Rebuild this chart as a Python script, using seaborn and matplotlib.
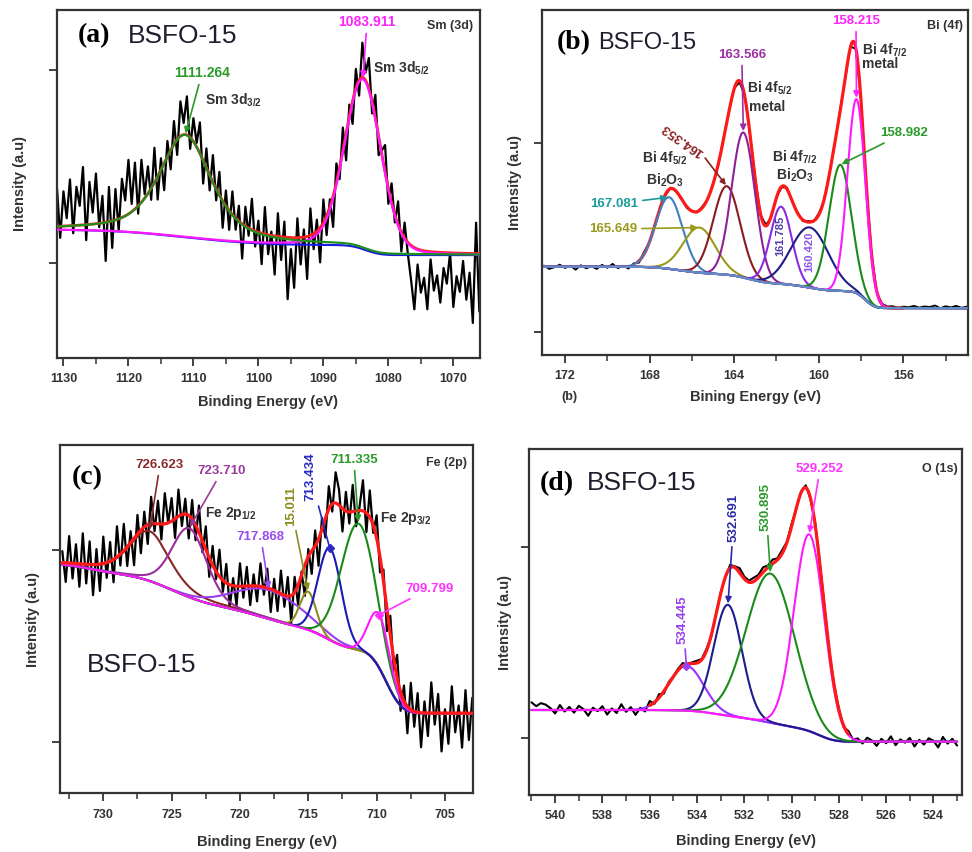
import math
import numpy as np
import matplotlib
matplotlib.use("Agg")
import matplotlib.pyplot as plt
from matplotlib.ticker import MultipleLocator
import seaborn as sns

sns.set_theme(style="white")
plt.rcParams["font.family"] = ["Liberation Sans", "DejaVu Sans"]
plt.rcParams["mathtext.fontset"] = "custom"
plt.rcParams["mathtext.rm"] = "Liberation Sans"
plt.rcParams["mathtext.bf"] = "Liberation Sans:bold"
plt.rcParams["mathtext.it"] = "Liberation Sans:italic"

INK = "#333333"
SAMPLE = "BSFO-15"

# ---------------- (a) Sm 3d ----------------
sm_ticks = [1130, 1120, 1110, 1100, 1090, 1080, 1070]
sm_centers = [1111.264, 1083.911]
sm_heights = [0.53, 0.88]
sm_fwhm = [9.5, 6.6]
sm_lorentz = [0.6, 0.15]
sm_bg_base = 1.041
sm_bg_steps = [0.052, 0.080]
sm_bg_at = [1083.5, 1111.0]
sm_bg_width = [1.8, 9.0]
# deviation of the measured counts from the fit envelope (x0.01), 1066 -> 1131 eV
sm_resid = [-30, 16, -36, -10, -24, -4, -20, -12, -28, 0,
            -16, -8, -26, -12, -20, -4, -30, -14, -22, -8,
            -32, -18, -6, 8, -10, 12, -4, 10, -8, 14,
            2, -10, 12, -6, 16, 4, 18, -8, 10, -12,
            6, -14, 12, -6, 10, -16, 4, -10, 12, -18,
            6, -8, 14, -22, 4, -14, 10, -26, -6, -32,
            8, -12, 12, -20, 2, -10, 14, -16, 6, -8,
            16, -4, 10, -18, 8, -6, 12, -10, 8, -14,
            12, -6, 14, -8, 10, -12, 16, 2, 12, -6,
            20, 6, 18, -8, 12, -10, 8, -14, 6, -12,
            18, -6, 14, 2, 22, -4, 24, 4, 28, 8,
            20, -6, 16, -14, 18, -20, 14, -2, 26, 6,
            22, -8, 30, 10, 20, -4, 24, 4, 18, -6,
            20]

# ---------------- (b) Bi 4f ----------------
bi_ticks = [172, 168, 164, 160, 156]
bi_centers = [167.081, 165.649, 164.353, 163.566, 161.785, 160.420, 158.982, 158.215]
bi_heights = [0.38, 0.24, 0.47, 0.77, 0.41, 0.32, 0.67, 1.03]
bi_fwhm = [1.5, 1.8, 1.5, 1.3, 1.2, 2.1, 1.25, 1.0]
bi_bg_base = 1.125
bi_bg_steps = [0.09, 0.04, 0.05, 0.04]
bi_bg_at = [157.8, 160.5, 163.3, 166.5]
bi_bg_width = [0.35, 0.8, 0.7, 1.0]
bi_resid = [8, 2, 12, 4, 10, 0, 14, 6, 9, 3,
            12, 5, 8, 2, 10, 6, 4, -6, 8, -4,
            6, -8, 4, -2, 10, -6, 3, -5, 8, -3,
            6, -7, 4, -2, 9, -5, 2, -8, 6, -3,
            7, -4, 5, -9, 3, -2, 8, -6, 4, -3,
            7, -5, 2, -8, 6, -2, 5, -6, 3, 1,
            -4, 12, -10, 6, -14, 4, -8, 15, -6, 10,
            -12, 2, -9, 8, -16, 5, -7, 11, -3, -12,
            6]

# ---------------- (c) Fe 2p ----------------
fe_ticks = [730, 725, 720, 715, 710, 705]
fe_centers = [726.623, 723.710, 717.868, 715.011, 713.434, 711.335, 709.799]
fe_labels = ["726.623", "723.710", "717.868", "15.011", "713.434", "711.335", "709.799"]
fe_heights = [0.26, 0.36, 0.15, 0.20, 0.48, 0.66, 0.28]
fe_fwhm = [3.5, 3.0, 6.0, 1.4, 2.0, 3.0, 1.8]
fe_lorentz = [0.5, 0.2, 0.0, 0.0, 0.0, 0.0, 0.0]
fe_bg_base = 1.148
fe_bg_steps = [0.33, 0.10, 0.13, 0.17, 0.05]
fe_bg_at = [709.3, 713.5, 718.0, 725.0, 731.0]
fe_bg_width = [0.9, 1.2, 2.5, 2.2, 1.5]
fe_resid = [8, -14, 12, -18, 4, -10, 14, -16, 2, -20,
            10, -6, 16, -12, 6, -18, 10, -8, 14, -14,
            8, -10, 12, -6, 10, -12, 6, -8, 12, -4,
            14, -10, 16, 2, -8, 14, -6, 10, -12, 8,
            16, -4, 12, -10, 6, -14, 8, -12, 4, -16,
            2, -10, 8, -14, 10, -6, 12, -10, 6, -12,
            10, -4, 12, -8, 6, -10, 10, -6, 12, -10,
            4, -12, 10, -6, 14, -4, 10, -10, 12, -6,
            14, -8, 10, -12, 8, -6, 14, -10, 12, 0,
            16, -8, 12, -4, 14, -10, 8, -12, 10, -14,
            6, -10, 14, -6, 16, -12, 10, -8, 14, -14,
            8, -16, 12, -10, 16, -12, 10, -8, 14, -10,
            6]

# ---------------- (d) O 1s ----------------
o_ticks = [540, 538, 536, 534, 532, 530, 528, 526, 524]
o_centers = [534.445, 532.691, 530.895, 529.252]
o_heights = [0.235, 0.58, 0.78, 1.03]
o_fwhm = [1.7, 1.4, 2.4, 1.5]
o_bg_base = 0.982
o_bg_steps = [0.06, 0.06, 0.046]
o_bg_at = [528.8, 530.5, 533.0]
o_bg_width = [0.5, 1.0, 1.0]
o_resid = [-20, 15, -10, 25, -30, 5, 18, -15, 10, -25,
           20, -5, 12, -18, 28, -8, 15, -22, 6, 20,
           -12, 10, -6, 16, -10, 8, 4, -6, 8, 2,
           10, -4, 12, 6, -2, 14, 4, 18, 8, 22,
           10, 26, 14, 20, 8, 12, 24, 6, 16, -4,
           8, 2, -6, 10, 4, 12, 6, -4, 14, 8,
           2, 10, -12, 18, -8, 24, -20, 6, -28, 14,
           -10, 30, -16, 8, -24, 20, -6, 12, -30, 4,
           22, -14, 16, -8, 26, -18, 10, 28, 36, 20,
           40]

_erf = np.vectorize(math.erf)


def peak(E, c, h, w, m=0.0):
    s = w / 2.3548
    g = np.exp(-0.5 * ((E - c) / s) ** 2)
    l = 1.0 / (1.0 + ((E - c) / (w / 2.0)) ** 2)
    return h * (m * l + (1.0 - m) * g)


def background(E, base, steps, at, width):
    out = np.full(E.shape, base, dtype=float)
    for h, c, w in zip(steps, at, width):
        out += h * 0.5 * (1.0 + _erf((E - c) / (w * np.sqrt(2.0))))
    return out


def curve(ax, x, y, color, lw, z):
    sns.lineplot(x=x, y=y, ax=ax, color=color, linewidth=lw, zorder=z,
                 estimator=None, sort=False, legend=False)


def frame(ax, xlim, ylim, ticks, minor, xlabel, xlab_y, ylab_x):
    ax.set_xlim(*xlim)
    ax.set_ylim(*ylim)
    ax.set_xticks(ticks)
    ax.set_xticklabels([str(t) for t in ticks], fontweight="bold", fontsize=9, color=INK)
    ax.xaxis.set_minor_locator(MultipleLocator(minor))
    ax.set_yticks([1, 2])
    ax.set_yticklabels([])
    ax.tick_params(axis="x", which="major", bottom=True, direction="out", length=6,
                   width=1.3, pad=5, color=INK)
    ax.tick_params(axis="x", which="minor", bottom=True, direction="out", length=4,
                   width=1.1, color=INK)
    ax.tick_params(axis="y", which="major", left=True, direction="out", length=6,
                   width=1.3, color=INK)
    for s in ax.spines.values():
        s.set_color(INK)
        s.set_linewidth(1.6)
    ax.set_xlabel(xlabel, fontsize=10.5, fontweight="bold", color=INK)
    ax.xaxis.set_label_coords(0.5, xlab_y)
    ax.set_ylabel("Intensity (a.u)", fontsize=10.5, fontweight="bold", color=INK)
    ax.yaxis.set_label_coords(ylab_x, 0.5)
    ax.grid(False)
    ax.set_facecolor("white")


def header(ax, letter, x_letter, x_name, y, name_size=19):
    ax.text(x_letter, y, letter, transform=ax.transAxes, ha="left", va="center",
            fontsize=20, fontweight="bold", family="Liberation Serif", color="black")
    ax.text(x_name, y, SAMPLE, transform=ax.transAxes, ha="left", va="center",
            fontsize=name_size, color="#1e1e2e")


def tag(ax, text, xy, xytext, color, size=9.5, rot=0, style="-|>", dot=False):
    ax.annotate(text, xy=xy, xycoords="data", xytext=xytext, textcoords="axes fraction",
                ha="center", va="center", fontsize=size, fontweight="bold", color=color,
                rotation=rot, zorder=10,
                arrowprops=dict(arrowstyle=style, color=color, lw=1.2, mutation_scale=9,
                                shrinkA=1, shrinkB=1))
    if dot:
        ax.plot([xy[0]], [xy[1]], marker="D", ms=4.5, color=color, zorder=11)


def note(ax, text, x, y, ha="left", size=10, color=INK):
    ax.text(x, y, text, transform=ax.transAxes, ha=ha, va="center", fontsize=size,
            fontweight="bold", color=color, zorder=10)


fig = plt.figure(figsize=(9.72, 8.52), dpi=100)
fig.patch.set_facecolor("white")

# ======================= (a) =======================
ax = fig.add_axes([0.0586, 0.5798, 0.4352, 0.4085])
E = np.linspace(1066.0, 1131.0, 1400)
Ed = np.linspace(1066.0, 1131.0, len(sm_resid))
bg = background(E, sm_bg_base, sm_bg_steps, sm_bg_at, sm_bg_width)
comps = [peak(E, c, h, w, m) for c, h, w, m in zip(sm_centers, sm_heights, sm_fwhm, sm_lorentz)]
env = bg + sum(comps)
envd = background(Ed, sm_bg_base, sm_bg_steps, sm_bg_at, sm_bg_width) + sum(
    peak(Ed, c, h, w, m) for c, h, w, m in zip(sm_centers, sm_heights, sm_fwhm, sm_lorentz))
curve(ax, Ed, envd + 0.01 * np.array(sm_resid), "black", 1.6, 2)
curve(ax, E, bg, "#1a1ae6", 1.5, 3)
curve(ax, E, env, "#ff2020", 2.0, 4)
curve(ax, E, bg + comps[1], "#ff19ff", 1.6, 5)
curve(ax, E, bg + comps[0], "#1f8f1f", 1.6, 6)
frame(ax, (1131.0, 1065.9), (0.508, 2.311), sm_ticks, 5, "Binding Energy (eV)", -0.105, -0.071)
header(ax, "(a)", 0.05, 0.168, 0.925)
note(ax, "Sm (3d)", 0.983, 0.954, ha="right", size=9)
sm_top = [background(np.array([c]), sm_bg_base, sm_bg_steps, sm_bg_at, sm_bg_width)[0] + h
          for c, h in zip(sm_centers, sm_heights)]
tag(ax, f"{sm_centers[0]:.3f}", (sm_centers[0], sm_top[0]), (0.343, 0.819), "#2a9a2a", size=10)
tag(ax, f"{sm_centers[1]:.3f}", (sm_centers[1], sm_top[1]), (0.733, 0.966), "#ff22ff", size=10)
note(ax, r"$\mathbf{Sm\ 3d_{3/2}}$", 0.35, 0.741)
note(ax, r"$\mathbf{Sm\ 3d_{5/2}}$", 0.747, 0.833)

# ======================= (b) =======================
ax = fig.add_axes([0.5576, 0.5833, 0.4383, 0.4050])
E = np.linspace(153.0, 173.0, 1400)
Ed = np.linspace(153.0, 173.0, len(bi_resid))
bi_bg = lambda x: background(x, bi_bg_base, bi_bg_steps, bi_bg_at, bi_bg_width)
bg = bi_bg(E)
comps = [peak(E, c, h, w) for c, h, w in zip(bi_centers, bi_heights, bi_fwhm)]
env = bg + sum(comps)
envd = bi_bg(Ed) + sum(peak(Ed, c, h, w) for c, h, w in zip(bi_centers, bi_heights, bi_fwhm))
bi_colors = ["#3f7fc2", "#9a9a1c", "#8b1c1c", "#8e2196", "#8a2be2", "#1c1c84", "#1a8a1a", "#ff19ff"]
curve(ax, Ed, envd + 0.001 * np.array(bi_resid), "black", 1.3, 2)
fit = (E > 156.0) & (E < 168.6)
curve(ax, E[fit], env[fit], "#ff1a1a", 2.3, 3)
for k, comp in enumerate(comps):
    curve(ax, E, bg + comp, bi_colors[k], 1.5, 4)
curve(ax, E, bg, "#5b8fc6", 1.6, 5)
frame(ax, (173.09, 152.94), (0.876, 2.708), bi_ticks, 2, "Bining Energy (eV)", -0.10, -0.047)
header(ax, "(b)", 0.035, 0.131, 0.905, name_size=17)
note(ax, "Bi (4f)", 0.988, 0.954, ha="right", size=9)
note(ax, "(b)", 0.045, -0.122, size=9)
bi_top = [bi_bg(np.array([c]))[0] + h for c, h in zip(bi_centers, bi_heights)]
bl = [f"{c:.3f}" for c in bi_centers]
tag(ax, bl[0], (bi_centers[0], bi_top[0]), (0.169, 0.438), "#1f9a9a")
tag(ax, bl[1], (bi_centers[1], bi_top[1]), (0.167, 0.365), "#9a9a1c")
ax.text(0.331, 0.623, bl[2], transform=ax.transAxes, rotation=145, ha="center", va="center",
        fontsize=9.5, fontweight="bold", color="#8b2222", zorder=10)
ax.annotate("", xy=(bi_centers[2], bi_top[2]), xytext=(0.383, 0.571), textcoords="axes fraction",
            arrowprops=dict(arrowstyle="-|>", color="#8b2222", lw=1.2, mutation_scale=8,
                            shrinkA=0, shrinkB=1), zorder=10)
tag(ax, bl[3], (bi_centers[3], bi_top[3]), (0.469, 0.870), "#9b2fa3")
ax.text(0.559, 0.345, bl[4], transform=ax.transAxes, rotation=90, ha="center", va="center",
        fontsize=8, fontweight="bold", color="#4b3ca8", zorder=10)
ax.text(0.627, 0.299, bl[5], transform=ax.transAxes, rotation=90, ha="center", va="center",
        fontsize=8, fontweight="bold", color="#8a52e6", zorder=10)
tag(ax, bl[6], (bi_centers[6], bi_top[6]), (0.850, 0.643), "#2a9a2a")
tag(ax, bl[7], (bi_centers[7], bi_top[7]), (0.737, 0.968), "#ff22ff")
note(ax, r"$\mathbf{Bi\ 4f_{5/2}}$", 0.289, 0.571, ha="center")
note(ax, r"$\mathbf{Bi_2O_3}$", 0.289, 0.507, ha="center")
note(ax, r"$\mathbf{Bi\ 4f_{7/2}}$", 0.594, 0.574, ha="center")
note(ax, r"$\mathbf{Bi_2O_3}$", 0.594, 0.520, ha="center")
note(ax, r"$\mathbf{Bi\ 4f_{5/2}}$", 0.481, 0.774)
note(ax, "metal", 0.485, 0.719)
note(ax, r"$\mathbf{Bi\ 4f_{7/2}}$", 0.751, 0.884)
note(ax, "metal", 0.751, 0.843)

# ======================= (c) =======================
ax = fig.add_axes([0.0617, 0.0689, 0.4252, 0.4088])
E = np.linspace(703.0, 733.0, 1400)
Ed = np.linspace(703.0, 733.0, len(fe_resid))
fe_bg = lambda x: background(x, fe_bg_base, fe_bg_steps, fe_bg_at, fe_bg_width)
bg = fe_bg(E)
comps = [peak(E, c, h, w, m) for c, h, w, m in zip(fe_centers, fe_heights, fe_fwhm, fe_lorentz)]
env = bg + sum(comps)
envd = fe_bg(Ed) + sum(peak(Ed, c, h, w, m)
                        for c, h, w, m in zip(fe_centers, fe_heights, fe_fwhm, fe_lorentz))
fe_colors = ["#8b2525", "#9b2c9b", "#9a3cf0", "#8c8c1e", "#1a1ab4", "#1a8a1a", "#ff19ff"]
curve(ax, Ed, envd + 0.01 * np.array(fe_resid), "black", 1.6, 2)
for k, comp in enumerate(comps):
    curve(ax, E, bg + comp, fe_colors[k], 1.5, 3)
curve(ax, E, env, "#ff1a1a", 2.3, 4)
frame(ax, (733.17, 702.93), (0.731, 2.548), fe_ticks, 2.5, "Binding Energy (eV)", -0.12, -0.048)
ax.text(0.029, 0.905, "(c)", transform=ax.transAxes, ha="left", va="center",
        fontsize=20, fontweight="bold", family="Liberation Serif", color="black")
ax.text(0.065, 0.368, SAMPLE, transform=ax.transAxes, ha="left", va="center",
        fontsize=19, color="#1e1e2e")
note(ax, "Fe (2p)", 0.985, 0.948, ha="right", size=9)
fe_top = [fe_bg(np.array([c]))[0] + h for c, h in zip(fe_centers, fe_heights)]
tag(ax, fe_labels[0], (fe_centers[0], fe_top[0]), (0.242, 0.943), "#8b2a2a")
tag(ax, fe_labels[1], (fe_centers[1], fe_top[1]), (0.392, 0.925), "#9b3a9b")
tag(ax, fe_labels[2], (fe_centers[2], fe_top[2]), (0.486, 0.736), "#9a4cf0")
tag(ax, fe_labels[3], (fe_centers[3], fe_top[3]), (0.559, 0.825), "#8c8c1e", rot=90)
tag(ax, fe_labels[4], (fe_centers[4], fe_top[4]), (0.607, 0.908), "#2a2ac0", rot=90,
    style="-", dot=True)
tag(ax, fe_labels[5], (fe_centers[5], fe_top[5]), (0.711, 0.957), "#2a9a2a")
tag(ax, fe_labels[6], (fe_centers[6], fe_top[6]), (0.893, 0.587), "#ff33ff", style="-", dot=True)
note(ax, r"$\mathbf{Fe\ 2p_{1/2}}$", 0.351, 0.802)
note(ax, r"$\mathbf{Fe\ 2p_{3/2}}$", 0.774, 0.790)

# ======================= (d) =======================
ax = fig.add_axes([0.5446, 0.0669, 0.4449, 0.4058])
E = np.linspace(523.0, 541.0, 1400)
Ed = np.linspace(523.0, 541.0, len(o_resid))
o_bg = lambda x: background(x, o_bg_base, o_bg_steps, o_bg_at, o_bg_width)
bg = o_bg(E)
comps = [peak(E, c, h, w) for c, h, w in zip(o_centers, o_heights, o_fwhm)]
env = bg + sum(comps)
envd = o_bg(Ed) + sum(peak(Ed, c, h, w) for c, h, w in zip(o_centers, o_heights, o_fwhm))
o_colors = ["#9933ff", "#1c1c8c", "#1a8a1a", "#ff19ff"]
curve(ax, Ed, envd + 0.001 * np.array(o_resid), "black", 1.5, 2)
curve(ax, E, bg, "#a040ff", 1.5, 3)
for k, comp in enumerate(comps):
    curve(ax, E, bg + comp, o_colors[k], 1.5, 3)
fit = (E > 527.6) & (E < 536.0)
curve(ax, E[fit], env[fit], "#ff1a1a", 2.3, 4)
frame(ax, (541.09, 522.8), (0.703, 2.513), o_ticks, 1, "Binding Energy (eV)", -0.113, -0.039)
header(ax, "(d)", 0.025, 0.133, 0.902)
note(ax, "O (1s)", 0.991, 0.943, ha="right", size=9)
o_top = [o_bg(np.array([c]))[0] + h for c, h in zip(o_centers, o_heights)]
ol = [f"{c:.3f}" for c in o_centers]
tag(ax, ol[0], (o_centers[0], o_top[0]), (0.355, 0.506), "#9a40f0", rot=90, style="-", dot=True)
tag(ax, ol[1], (o_centers[1], o_top[1]), (0.473, 0.801), "#2a2aa8", rot=90)
tag(ax, ol[2], (o_centers[2], o_top[2]), (0.547, 0.833), "#2a9a2a", rot=90)
tag(ax, ol[3], (o_centers[3], o_top[3]), (0.672, 0.943), "#ff33ff")

fig.savefig("out.png", dpi=100, facecolor="white")
